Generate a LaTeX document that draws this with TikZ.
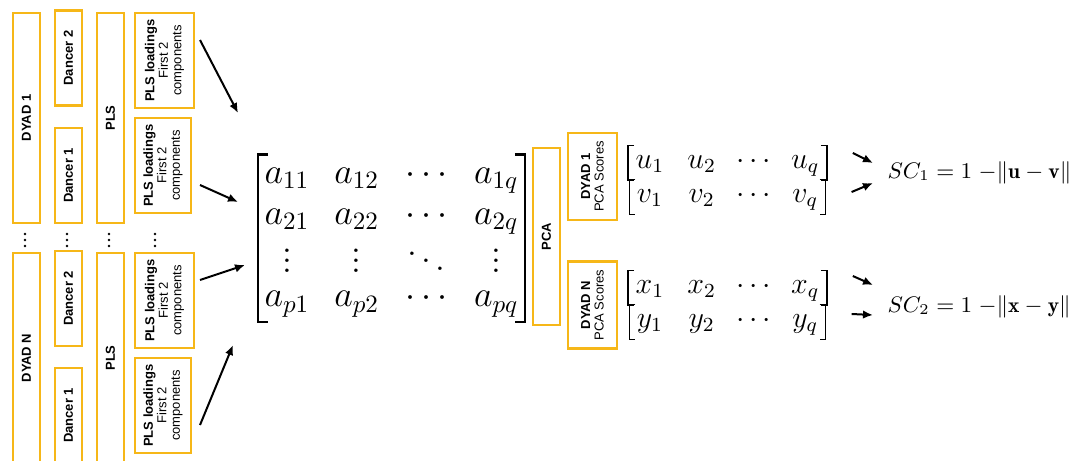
\documentclass[tikz,border=0pt]{standalone}
\usepackage{amsmath,amssymb}
\usepackage{fontspec}
\usepackage{tikz}
\usetikzlibrary{matrix,arrows.meta}
\newfontfamily\boxfont{Liberation Sans}
\definecolor{boxgold}{RGB}{246,183,24}
\newcommand*\boxwd{10.8pt}
\newcommand*\boxlw{1pt}
% bracket pair round a matrix: name, serif length, line width
\newcommand*\bracketpair[3]{%
    \draw[line width=#3] ([xshift=#2]#1.north west) -| (#1.south west) -- ++(#2,0);
    \draw[line width=#3] ([xshift=-#2]#1.north east) -| (#1.south east) -- ++(-#2,0);
}
% dots of the third matrix row, set a little lower
\newcommand*\lowvdots{\raisebox{-2.8pt}{$\vdots$}}
\newcommand*\lowddots{\raisebox{-2.8pt}{$\ddots$}}
\tikzset{
    goldbox/.style   = {draw=boxgold, line width=\boxlw, rotate=90,
                        inner sep=0pt, outer sep=0pt, align=center,
                        font=\boxfont\fontsize{5.2}{5.4}\selectfont\bfseries},
    tallbox/.style   = {goldbox, minimum width=84pt, minimum height=\boxwd},
    dancerbox/.style = {goldbox, minimum width=38pt, minimum height=\boxwd},
    loadbox/.style   = {goldbox, minimum width=38pt, minimum height=23.6pt},
    pcabox/.style    = {goldbox, minimum width=70.8pt, minimum height=\boxwd},
    scorebox/.style  = {goldbox, minimum width=34.8pt, minimum height=19.6pt},
    arr/.style       = {-{Latex[length=4pt,width=3.4pt]}, line width=0.8pt},
    bigmatrix/.style = {
        matrix of math nodes,
        inner xsep=2.4pt, inner ysep=0.9pt,
        nodes = {anchor=base, inner sep=0pt, text height=10.4pt, text depth=5pt,
                 font=\fontsize{14.4}{16}\selectfont},
        column sep={27.9pt,between origins}, row sep={16.5pt,between origins},
    },
    vecmatrix/.style = {
        matrix of math nodes,
        inner xsep=2.8pt, inner ysep=0.4pt,
        nodes = {anchor=base, inner sep=0pt, text height=8.4pt, text depth=4.4pt,
                 font=\fontsize{12}{14}\selectfont},
        column sep={20.7pt,between origins},
    },
    sclabel/.style = {anchor=base west, inner sep=0pt,
                      font=\fontsize{8.6}{10}\selectfont},
}
\begin{document}
\begin{tikzpicture}[x=0.4pt, y=-0.4pt, line join=miter]
    \useasboundingbox (0,0) rectangle (1083,460);

    % first dyad
    \node[tallbox]   (dyadA)    at (26.5,118)  {DYAD 1};
    \node[dancerbox] (dancerA2) at (68.5,58)   {Dancer 2};
    \node[dancerbox] (dancerA1) at (68.5,175.5){Dancer 1};
    \node[tallbox]   (plsA)     at (110.5,118) {PLS};
    \node[loadbox]   (loadA1)   at (164.5,60.5) {PLS loadings\\{\mdseries First 2}\\{\mdseries components}};
    \node[loadbox, minimum height=22.4pt] (loadA2) at (163,165.5) {PLS loadings\\{\mdseries First 2}\\{\mdseries components}};

    % dots between the dyads
    \foreach \x in {25,67,109,155} {
        \foreach \y in {234,240,246} {
            \fill (\x,\y) circle[radius=1.4];
        }
    }

    % last dyad
    \node[tallbox]   (dyadN)    at (26.5,358)  {DYAD N};
    \node[dancerbox] (dancerN2) at (68.5,298.5){Dancer 2};
    \node[dancerbox] (dancerN1) at (68.5,415.5){Dancer 1};
    \node[tallbox]   (plsN)     at (110.5,358) {PLS};
    \node[loadbox]   (loadN1)   at (164.5,300.5) {PLS loadings\\{\mdseries First 2}\\{\mdseries components}};
    \node[loadbox, minimum height=22.4pt] (loadN2) at (163,405.5) {PLS loadings\\{\mdseries First 2}\\{\mdseries components}};

    % loadings matrix
    \matrix (M) [bigmatrix, matrix anchor=M-1-1.base] at (287,183) {
        a_{11} & a_{12} & \cdots & a_{1q} \\
        a_{21} & a_{22} & \cdots & a_{2q} \\
        \lowvdots & \lowvdots & \lowddots & \lowvdots \\
        a_{p1} & a_{p2} & \cdots & a_{pq} \\
    };
    \bracketpair{M}{4pt}{1pt}

    \coordinate (inA1) at (238,113);
    \coordinate (inA2) at (238,202);
    \coordinate (inN1) at (245,265);
    \coordinate (inN2) at (233,345);
    \draw[arr] ([shift={(35.5,-20.5)}]loadA1.center) -- (inA1);
    \draw[arr] ([shift={(37,19.5)}]loadA2.center) -- (inA2);
    \draw[arr] ([shift={(35.5,-20.5)}]loadN1.center) -- (inN1);
    \draw[arr] ([shift={(37,19.5)}]loadN2.center) -- (inN2);

    % PCA and scores
    \node[pcabox]   (pca)    at (546.5,236.5) {PCA};
    \node[scorebox] (scoreA) at (592.5,176.5) {DYAD 1\\{\mdseries PCA Scores}};
    \node[scorebox] (scoreN) at (592.5,305)   {DYAD N\\{\mdseries PCA Scores}};

    \matrix (U) [vecmatrix, matrix anchor=U-1-1.base] at (650,168) { u_1 & u_2 & \cdots & u_q \\ };
    \matrix (V) [vecmatrix, matrix anchor=V-1-1.base] at (650,202) { v_1 & v_2 & \cdots & v_q \\ };
    \matrix (X) [vecmatrix, matrix anchor=X-1-1.base] at (650,293) { x_1 & x_2 & \cdots & x_q \\ };
    \matrix (Y) [vecmatrix, matrix anchor=Y-1-1.base] at (650,327) { y_1 & y_2 & \cdots & y_q \\ };
    \foreach \v in {U,V,X,Y} {
        \bracketpair{\v}{2.4pt}{0.6pt}
    }

    % similarity scores
    \node[sclabel] (scA) at (887,178) {$SC_1 = 1\;{-}\|\mathbf{u} - \mathbf{v}\|$};
    \node[sclabel] (scN) at (887,312) {$SC_2 = 1\;{-}\|\mathbf{x} - \mathbf{y}\|$};

    \coordinate (toA1) at (873,163);
    \coordinate (toA2) at (873,183);
    \coordinate (toN1) at (873,285);
    \coordinate (toN2) at (873,315);
    \draw[arr] ([shift={(26,-10)}]U.east) -- (toA1);
    \draw[arr] ([shift={(26,-5)}]V.east)  -- (toA2);
    \draw[arr] ([shift={(26,-12)}]X.east) -- (toN1);
    \draw[arr] ([shift={(26,-8)}]Y.east)  -- (toN2);
\end{tikzpicture}
\end{document}
